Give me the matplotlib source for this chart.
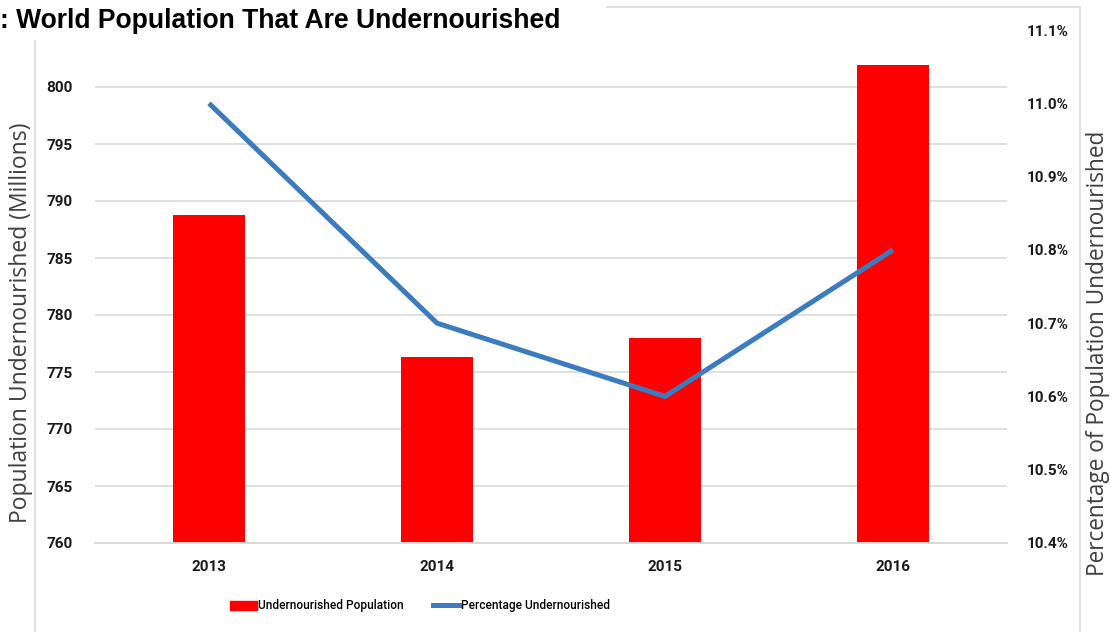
import matplotlib.pyplot as plt
import matplotlib.patches as mpatches
from matplotlib.lines import Line2D
import numpy as np

# data
years = ['2013', '2014', '2015', '2016']
population = [788.8, 776.3, 778.0, 801.9]      # millions
percentage = [11.0, 10.7, 10.6, 10.8]          # percent

left_ticks = np.arange(760, 801, 5)
right_ticks = [10.4, 10.5, 10.6, 10.7, 10.8, 10.9, 11.0, 11.1]

bar_color = '#ff0000'
line_color = '#3b7bbf'
grid_color = '#d9d9d9'
tick_font = ['Roboto', 'DejaVu Sans']
label_font = ['Open Sans', 'DejaVu Sans']

fig = plt.figure(figsize=(11.1, 6.32), dpi=100)
ax = fig.add_axes([95/1110, 1 - 543/632, (1007 - 95)/1110, (543 - 30)/632])
ax2 = ax.twinx()

x = np.arange(len(years))

# bars on the left axis
ax.bar(x, population, width=0.315, color=bar_color, zorder=2)
ax.set_xlim(-0.5, 3.5)
ax.set_ylim(760, 805)
ax.set_yticks(left_ticks)
ax.set_xticks(x)
ax.set_xticklabels(years)
ax.grid(axis='y', color=grid_color, linewidth=1.2, zorder=0)
ax.set_axisbelow(True)

# line on the right axis
ax2.plot(x, percentage, color=line_color, linewidth=3.6, zorder=3,
         solid_capstyle='butt')
ax2.set_ylim(10.4, 11.1)
ax2.set_yticks(right_ticks)
ax2.set_yticklabels(['%.1f%%' % v for v in right_ticks])

for a in (ax, ax2):
    for side in ('top', 'left', 'right'):
        a.spines[side].set_visible(False)
    a.spines['bottom'].set_color(grid_color)
    a.spines['bottom'].set_linewidth(1.2)
    a.tick_params(length=0)
    for lbl in a.get_xticklabels() + a.get_yticklabels():
        lbl.set_family(tick_font)
        lbl.set_fontweight('bold')
        lbl.set_fontsize(11)
        lbl.set_color('#1a1a1a')

ax.tick_params(axis='y', pad=16)
ax.tick_params(axis='x', pad=12)
ax2.tick_params(axis='y', pad=14)

ax.set_ylabel('Population Undernourished (Millions)', family=label_font,
              fontsize=16.5, color='#404040')
ax2.set_ylabel('Percentage of Population Undernourished', family=label_font,
               fontsize=16.3, color='#404040')
ax.yaxis.set_label_coords(-0.068, 0.43)
ax2.yaxis.set_label_coords(1.087, 0.37)

# chart frame
frame = mpatches.Rectangle((35/1110, -0.05), (1080 - 35)/1110, 1.05 - 7/632,
                           transform=fig.transFigure, fill=False,
                           edgecolor=grid_color, linewidth=1.2, zorder=0)
fig.patches.append(frame)

# title on a white block over the frame corner
fig.patches.append(mpatches.Rectangle((0, 1 - 40/632), 606/1110, 40/632,
                                      transform=fig.transFigure,
                                      facecolor='white', edgecolor='none',
                                      zorder=5))
fig.text(0, 1 - 21/632, ': World Population That Are Undernourished',
         family=['Liberation Sans', 'DejaVu Sans'], fontweight='bold',
         fontsize=19.1, va='center', ha='left', zorder=6)

# legend
handles = [mpatches.Patch(color=bar_color),
           Line2D([], [], color=line_color, linewidth=3.6)]
leg = fig.legend(handles, ['Undernourished Population', 'Percentage Undernourished'],
                 loc='center', bbox_to_anchor=(420/1110, 1 - 606/632), ncol=2,
                 frameon=False, handlelength=2.2, handletextpad=0.15,
                 columnspacing=2.4,
                 prop={'family': ['Roboto', 'DejaVu Sans'], 'size': 8.6,
                       'weight': 'medium'})

fig.savefig('out.png', dpi=100)
